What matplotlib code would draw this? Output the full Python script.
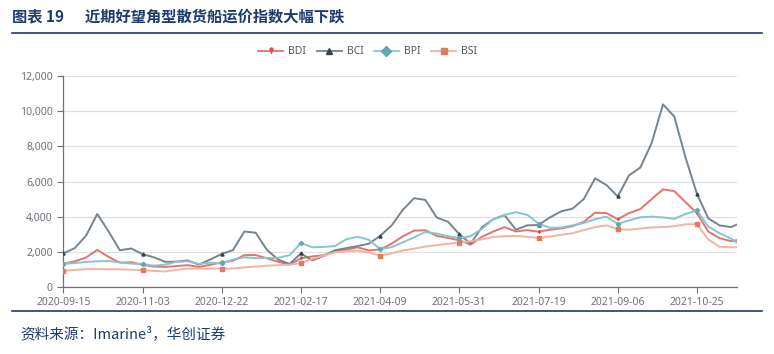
import numpy as np
import matplotlib
matplotlib.use('Agg')
import matplotlib.pyplot as plt
from matplotlib.path import Path
from matplotlib.lines import Line2D

plt.rcParams['font.family'] = ['Noto Sans', 'Noto Sans CJK SC', 'DejaVu Sans']

# tick labels on the category axis (one every 35 trading days)
tick_labels = ['2020-09-15', '2020-11-03', '2020-12-22', '2021-02-17', '2021-04-09',
               '2021-05-31', '2021-07-19', '2021-09-06', '2021-10-25']
days_per_tick = 35
sample_step = 5  # one reading per week (5 trading days)

# weekly readings
bdi = [1310, 1450, 1660, 2100, 1700, 1370, 1400, 1250, 1150, 1130,
       1180, 1230, 1130, 1260, 1390, 1480, 1800, 1810, 1620, 1420,
       1260, 1620, 1730, 1800, 2000, 2110, 2250, 2070, 2130, 2450,
       2870, 3200, 3220, 2900, 2780, 2650, 2400, 2850, 3150, 3400,
       3150, 3230, 3140, 3250, 3330, 3450, 3700, 4220, 4200, 3850,
       4200, 4430, 5000, 5550, 5450, 4820, 4200, 3150, 2770, 2600, 2700]
bci = [1900, 2200, 2900, 4150, 3150, 2080, 2180, 1860, 1680, 1420,
       1430, 1500, 1260, 1560, 1870, 2090, 3150, 3080, 2100, 1540,
       1300, 1900, 1500, 1750, 2080, 2200, 2320, 2450, 2900, 3480,
       4380, 5050, 4950, 3950, 3700, 3000, 2450, 3400, 3850, 4080,
       3250, 3500, 3520, 3950, 4300, 4450, 5000, 6180, 5800, 5150,
       6350, 6800, 8200, 10400, 9700, 7350, 5300, 3900, 3500, 3400, 3670]
bpi = [1310, 1350, 1410, 1450, 1470, 1390, 1320, 1300, 1200, 1260,
       1420, 1450, 1300, 1370, 1330, 1550, 1680, 1630, 1640, 1650,
       1800, 2500, 2250, 2270, 2320, 2700, 2850, 2680, 2150, 2250,
       2530, 2820, 3120, 3030, 2880, 2780, 2880, 3300, 3850, 4100,
       4250, 4100, 3600, 3360, 3380, 3500, 3640, 3850, 4000, 3580,
       3780, 3960, 4000, 3950, 3870, 4150, 4350, 3430, 3050, 2750, 2300]
bsi = [910, 960, 1000, 1010, 1000, 990, 970, 950, 900, 870,
       960, 1040, 1030, 1030, 1040, 1040, 1100, 1150, 1200, 1230,
       1260, 1350, 1580, 1780, 1960, 2020, 2060, 1950, 1780, 1900,
       2070, 2170, 2290, 2370, 2450, 2520, 2600, 2700, 2840, 2880,
       2900, 2850, 2780, 2860, 2960, 3050, 3230, 3400, 3500, 3280,
       3250, 3320, 3380, 3400, 3450, 3560, 3570, 2700, 2280, 2250, 2250]

navy = '#1f3a6e'
axis_gray = '#6e7079'

# pin-shaped marker for BDI
circ = Path.circle((0, 0.6), 0.45)
tri = Path([(-0.25, 0.4), (0.25, 0.4), (0, -0.6), (-0.25, 0.4)],
           [Path.MOVETO, Path.LINETO, Path.LINETO, Path.CLOSEPOLY])
pin = Path.make_compound_path(circ, tri)

series = [
    ('BDI', bdi, '#e27373', '#d9534f', pin),
    ('BCI', bci, '#75848f', '#2f4554', '^'),
    ('BPI', bpi, '#86c6ca', '#5fa9ae', 'D'),
    ('BSI', bsi, '#f3b3a0', '#e07b5f', 's'),
]

fig = plt.figure(figsize=(7.74, 3.54), dpi=100)
ax = fig.add_axes([0.0818, 0.190, 0.8698, 0.5945])

x = np.arange(len(bdi)) * sample_step
every = days_per_tick // sample_step
handles = []
for name, vals, col, mcol, mk in series:
    ax.plot(x, vals, color=col, lw=1.4, zorder=3, solid_joinstyle='round',
            marker=mk, markevery=slice(0, len(vals), every), markersize=2.2,
            markerfacecolor=mcol, markeredgecolor=mcol)
    handles.append(Line2D([0], [0], color=col, lw=1.3, marker=mk, markersize=5,
                          markerfacecolor=mcol, markeredgecolor=mcol, label=name))

ax.set_xlim(0, 297.5)
ax.set_ylim(0, 12000)
ax.set_yticks(np.arange(0, 12001, 2000))
ax.set_yticklabels(['{:,}'.format(v) for v in range(0, 12001, 2000)])
ax.set_xticks(np.arange(len(tick_labels)) * days_per_tick)
ax.set_xticklabels(tick_labels)
ax.grid(axis='y', color='#e0e0e0', lw=0.9)
ax.set_axisbelow(True)
for s in ['top', 'right']:
    ax.spines[s].set_visible(False)
for s in ['left', 'bottom']:
    ax.spines[s].set_color(axis_gray)
    ax.spines[s].set_linewidth(0.9)
ax.tick_params(colors=axis_gray, labelsize=7.5, length=4, width=0.8, labelcolor='#6e7079')

fig.legend(handles=handles, loc='center', bbox_to_anchor=(0.475, 1 - 52 / 354), ncol=4,
           frameon=False, fontsize=7.5, labelcolor='#555555', handlelength=2.4,
           columnspacing=1.0, handletextpad=0.5)

# header / footer
fig.text(12 / 774, 1 - 16 / 354, '图表 19      近期好望角型散货船运价指数大幅下跌',
         family=['Noto Sans CJK SC', 'DejaVu Sans'], fontsize=11, fontweight='bold',
         color=navy, va='center', ha='left')
fig.add_artist(Line2D([12 / 774, 762 / 774], [1 - 33 / 354, 1 - 33 / 354],
                      color=navy, lw=1.2, transform=fig.transFigure))
fig.add_artist(Line2D([12 / 774, 762 / 774], [1 - 311 / 354, 1 - 311 / 354],
                      color=navy, lw=1.2, transform=fig.transFigure))
fig.text(20 / 774, 1 - 334 / 354, '资料来源：Imarine³，华创证券',
         family=['Noto Sans CJK SC', 'DejaVu Sans'], fontsize=10.5, style='italic',
         color=navy, va='center', ha='left')

fig.savefig('out.png', dpi=100)
